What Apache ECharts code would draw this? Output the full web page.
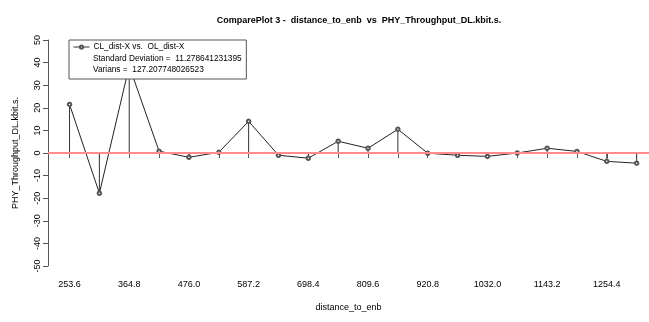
<!DOCTYPE html>
<html>
<head>
<meta charset="utf-8">
<script src="https://cdn.jsdelivr.net/npm/echarts@6/dist/echarts.min.js"></script>
<style>
  html, body { margin: 0; padding: 0; background: #fff; }
  #main { width: 649px; height: 322px; }
</style>
</head>
<body>
<div id="main"></div>
<script>
// distance_to_enb points (x) and the difference values (y)
const distances = [253.6, 309.2, 364.8, 420.4, 476.0, 531.6, 587.2, 642.8, 698.4, 754.0,
  809.6, 865.2, 920.8, 976.4, 1032.0, 1087.6, 1143.2, 1198.8, 1254.4, 1310.0];
const diffValues = [21.5, -17.8, 38.5, 0.8, -1.9, 0.3, 14.0, -1.0, -2.3, 5.2,
  2.1, 10.5, -0.1, -1.0, -1.5, 0.0, 2.1, 0.7, -3.7, -4.5];
const xTickLabels = [253.6, 364.8, 476.0, 587.2, 698.4, 809.6, 920.8, 1032.0, 1143.2, 1254.4];
const yTicks = [-50, -40, -30, -20, -10, 0, 10, 20, 30, 40, 50];

const stdDev = '11.278641231395';
const varians = '127.207748026523';

const points = distances.map((d, i) => [d, diffValues[i]]);
const font = 'Liberation Sans, Arial, sans-serif';

const myChart = echarts.init(document.getElementById('main'));

const option = {
  animation: false,
  textStyle: { fontFamily: font },
  title: {
    text: 'ComparePlot 3 -  distance_to_enb  vs  PHY_Throughput_DL.kbit.s.',
    left: 354,
    top: 11,
    textAlign: 'center',
    textStyle: { fontSize: 9, fontWeight: 'bold', color: '#000', fontFamily: font },
  },
  grid: { left: 48, right: 0, top: 40, bottom: 56 },
  legend: {
    left: 69,
    top: 40,
    orient: 'vertical',
    data: ['CL_dist-X vs.  OL_dist-X'],
    itemWidth: 16,
    itemHeight: 4,
    padding: [3, 62, 28, 4],
    borderColor: '#555',
    borderWidth: 1,
    backgroundColor: '#fff',
    lineStyle: { width: 1, color: '#333' },
    itemStyle: { color: '#555', borderColor: '#555' },
    textStyle: { fontSize: 8.3, color: '#000', fontFamily: font, padding: [0, 0, 0, -1] },
  },
  graphic: [
    {
      type: 'text',
      left: 93,
      top: 53,
      z: 100,
      style: {
        text: 'Standard Deviation =  ' + stdDev + '\nVarians =  ' + varians,
        font: '8.3px ' + font,
        fill: '#000',
        lineHeight: 11,
      },
    },
  ],
  xAxis: {
    type: 'value',
    min: 213.5,
    max: 1333,
    offset: 7,
    name: 'distance_to_enb',
    nameLocation: 'middle',
    nameGap: 30,
    nameTextStyle: { fontSize: 9, color: '#000' },
    splitLine: { show: false },
    axisLine: { lineStyle: { color: '#555' } },
    axisTick: { customValues: distances, length: 5, lineStyle: { color: '#555' } },
    axisLabel: {
      customValues: xTickLabels,
      formatter: (v) => v.toFixed(1),
      fontSize: 9,
      color: '#000',
      margin: 7,
    },
  },
  yAxis: {
    type: 'value',
    min: -50,
    max: 50,
    interval: 10,
    name: 'PHY_Throughput_DL.kbit.s.',
    nameLocation: 'middle',
    nameGap: 28,
    nameTextStyle: { fontSize: 9, color: '#000' },
    splitLine: { show: false },
    axisLine: { lineStyle: { color: '#555' } },
    axisTick: { customValues: yTicks, length: 5, lineStyle: { color: '#555' } },
    axisLabel: { rotate: 90, fontSize: 9, color: '#000', margin: 6 },
  },
  series: [
    {
      name: 'stems',
      type: 'bar',
      data: points,
      barWidth: 1,
      itemStyle: { color: '#333' },
      silent: true,
    },
    {
      name: 'CL_dist-X vs.  OL_dist-X',
      type: 'line',
      data: points,
      symbol: 'emptyCircle',
      symbolSize: 3.5,
      itemStyle: { color: '#555', borderWidth: 1 },
      lineStyle: { color: '#222', width: 1 },
      markLine: {
        silent: true,
        symbol: ['none', 'none'],
        label: { show: false },
        lineStyle: { color: '#ff8c8c', width: 2, type: 'solid' },
        data: [{ yAxis: 0 }],
      },
    },
  ],
};

myChart.setOption(option);
</script>
</body>
</html>
